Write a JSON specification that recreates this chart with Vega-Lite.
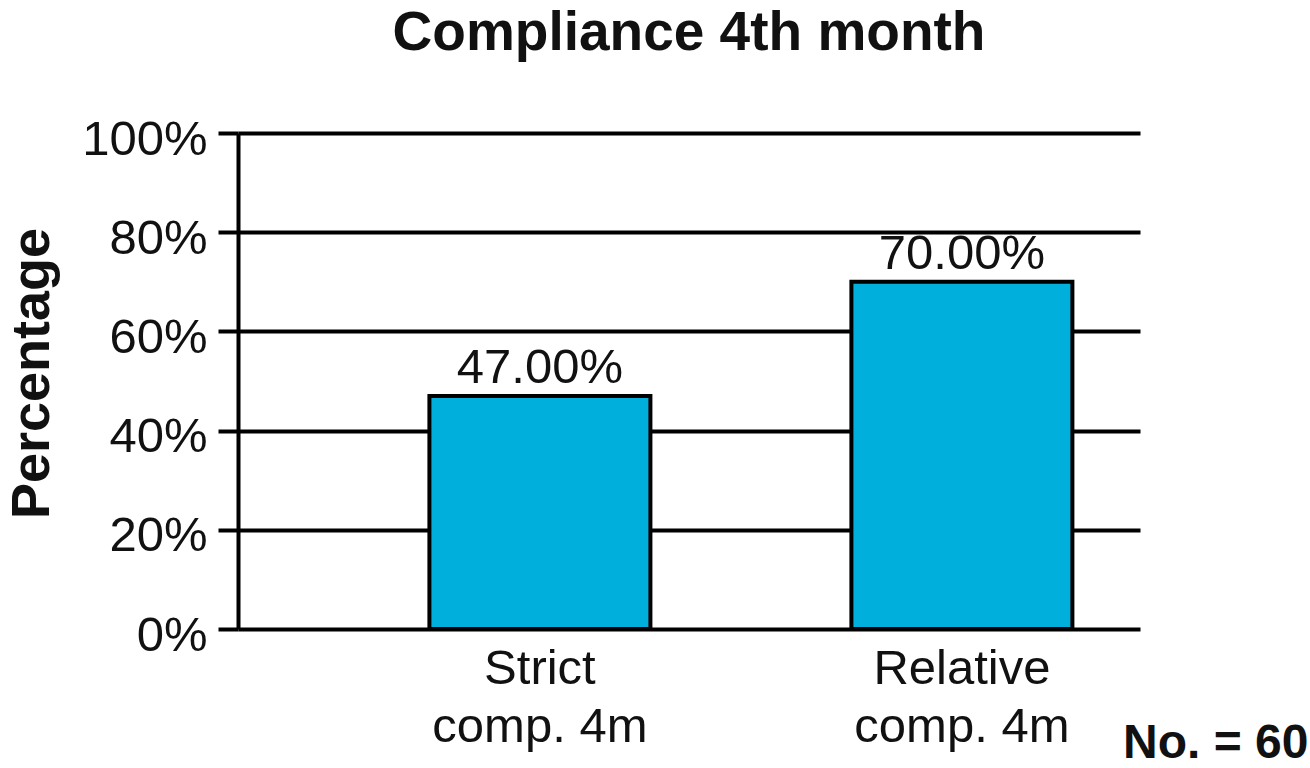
{
  "$schema": "https://vega.github.io/schema/vega-lite/v6.json",
  "width": 902,
  "height": 496,
  "autosize": {"type": "none"},
  "padding": {"left": 238, "top": 133, "right": 170, "bottom": 139},
  "background": "white",
  "title": {
    "text": "Compliance 4th month",
    "font": "Liberation Sans",
    "fontSize": 55,
    "fontWeight": "bold",
    "color": "#111111",
    "anchor": "middle",
    "frame": "group",
    "baseline": "alphabetic",
    "offset": 10
  },
  "data": {
    "values": [
      {"group": "Strict\ncomp. 4m", "pct": 47, "label": "47.00%"},
      {"group": "Relative\ncomp. 4m", "pct": 70, "label": "70.00%"}
    ]
  },
  "encoding": {
    "x": {
      "field": "group",
      "type": "nominal",
      "sort": null,
      "scale": {"paddingInner": 0.4763, "paddingOuter": 0.3069, "align": 0.739},
      "axis": {
        "domain": false,
        "ticks": false,
        "grid": false,
        "labelAngle": 0,
        "labelFont": "Liberation Sans",
        "labelFontSize": 49,
        "labelColor": "#111111",
        "labelLineHeight": 58,
        "labelPadding": 15,
        "labelLimit": 0,
        "labelExpr": "split(datum.label, '\\n')",
        "title": "No. = 60",
        "titleFont": "Liberation Sans",
        "titleFontSize": 48,
        "titleFontWeight": "bold",
        "titleColor": "#111111",
        "titleX": 1070,
        "titleY": 128,
        "titleAlign": "right",
        "titleBaseline": "alphabetic",
        "titleAngle": 0
      }
    },
    "y": {
      "field": "pct",
      "type": "quantitative",
      "scale": {"domain": [0, 100]},
      "axis": {
        "values": [0, 20, 40, 60, 80, 100],
        "labelExpr": "datum.value + '%'",
        "domain": true,
        "domainColor": "#000000",
        "domainWidth": 4,
        "ticks": true,
        "tickSize": 20,
        "tickWidth": 4,
        "tickColor": "#000000",
        "grid": true,
        "gridColor": "#000000",
        "gridWidth": 4,
        "gridOpacity": 1,
        "labelFont": "Liberation Sans",
        "labelFontSize": 49,
        "labelColor": "#111111",
        "labelPadding": 11,
        "labelOffset": 6,
        "title": "Percentage",
        "titleFont": "Liberation Sans",
        "titleFontSize": 54,
        "titleFontWeight": "bold",
        "titleColor": "#111111",
        "titleAngle": -90,
        "titleX": -190,
        "titleY": 240,
        "titleAlign": "center",
        "titleBaseline": "alphabetic"
      }
    }
  },
  "layer": [
    {"mark": {"type": "bar", "fill": "#00AFDC", "stroke": "#000000", "strokeWidth": 4}},
    {
      "mark": {"type": "text", "baseline": "alphabetic", "dy": -13, "font": "Liberation Sans", "fontSize": 49, "color": "#111111"},
      "encoding": {"text": {"field": "label"}}
    }
  ],
  "config": {"view": {"stroke": null}}
}
